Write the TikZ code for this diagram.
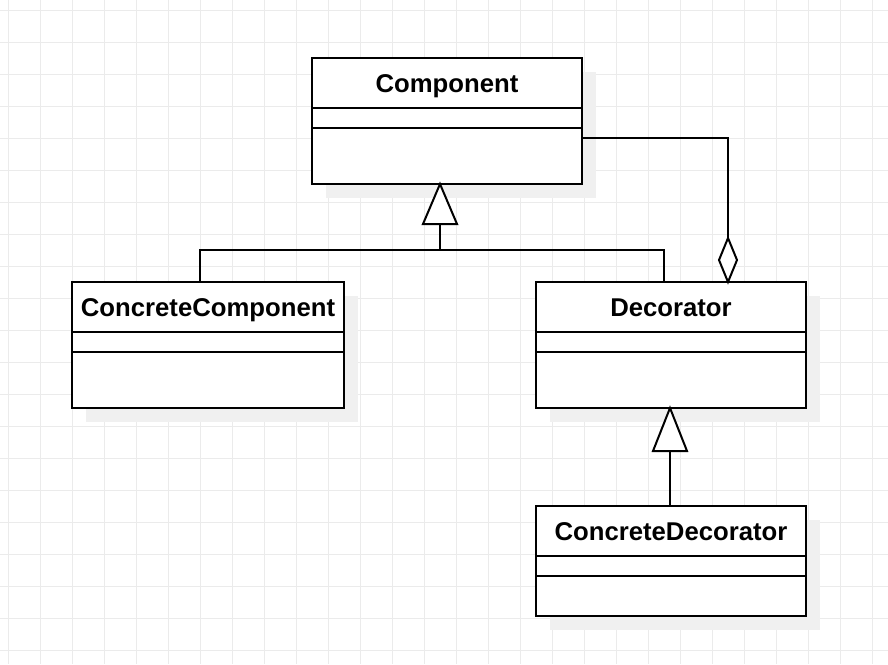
\documentclass[tikz,border=0pt]{standalone}
\usepackage{fontspec}
\setmainfont{Liberation Sans}
\usetikzlibrary{calc}
\definecolor{gridc}{HTML}{EBEBEB}
\definecolor{shadowc}{HTML}{F0F0F0}
\tikzset{
  px/.style={x=1pt,y=-1pt},
  line/.style={line width=2pt,black},
  gridline/.style={line width=1pt,gridc},
  shadowbox/.style={fill=shadowc,draw=none},
  classbox/.style={line width=2pt,draw=black,fill=white},
  title/.style={font=\fontsize{25.7}{30}\selectfont\bfseries,inner sep=0pt,anchor=base},
  hollowtri/.style={line width=2pt,draw=black,fill=white,line join=miter},
}
\newcommand{\umlclass}[6]{% name, x1, y1, x2, y2(bottom), text ; dividers at y1+50, y1+70
  \fill[shadowbox] (#2+14,#3+14) rectangle (#4+14,#5+14);
  \draw[classbox] (#2,#3) rectangle (#4,#5);
  \draw[line] (#2,#3+50) -- (#4,#3+50);
  \draw[line] (#2,#3+70) -- (#4,#3+70);
  \coordinate (#1-nw) at (#2,#3);
  \coordinate (#1-se) at (#4,#5);
  \node[title] (#1) at ({(#2+#4)/2},#3+34) {#6};
}
\begin{document}
\begin{tikzpicture}[px]
\useasboundingbox (0,0) rectangle (888,664);
\fill[white] (0,0) rectangle (888,664);
\foreach \i in {0,...,27} { \draw[gridline] (8+32*\i,0) -- (8+32*\i,664); }
\foreach \j in {0,...,20} { \draw[gridline] (0,10+32*\j) -- (888,10+32*\j); }

\umlclass{comp}{312}{58}{582}{184}{Component}
\umlclass{ccomp}{72}{282}{344}{408}{ConcreteComponent}
\umlclass{deco}{536}{282}{806}{408}{Decorator}
\umlclass{cdeco}{536}{506}{806}{616}{ConcreteDecorator}

% generalization: ConcreteComponent & Decorator -> Component
\coordinate (t1apex) at (440,184);
\coordinate (t1base) at (440,224);
\coordinate (junc) at (440,250);
\draw[line] (t1base) -- (junc);
\draw[line] (200,282) -- (200,250) -- (664,250) -- (664,282);
\draw[hollowtri] (t1apex) -- (423,224) -- (457,224) -- cycle;

% generalization: ConcreteDecorator -> Decorator
\coordinate (t2apex) at (670,408);
\draw[line] (670,451) -- (670,506);
\draw[hollowtri] (t2apex) -- (653,451) -- (687,451) -- cycle;

% aggregation: Decorator -> Component
\coordinate (dtop) at (728,238);
\draw[line] (582,138) -- (728,138) -- (dtop);
\draw[hollowtri] (728,282) -- (719,260) -- (dtop) -- (737,260) -- cycle;
\end{tikzpicture}
\end{document}
